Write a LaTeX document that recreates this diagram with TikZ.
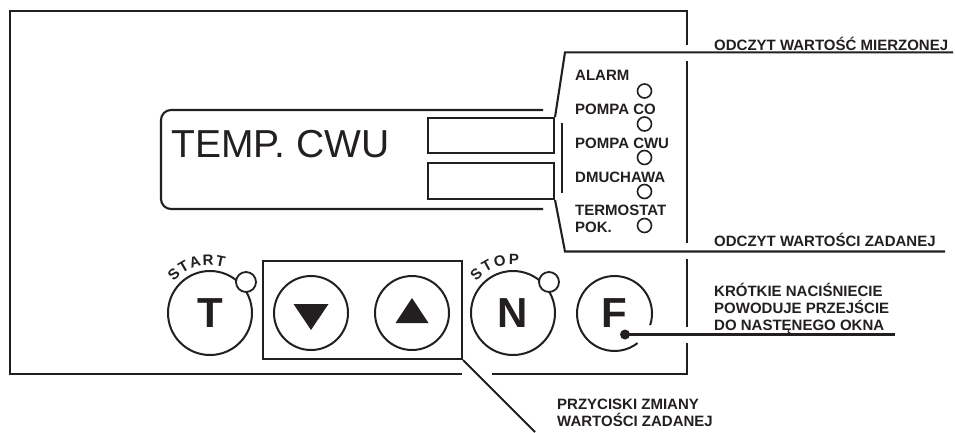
\documentclass[tikz,border=0pt]{standalone}
\usepackage{fontspec}
\setmainfont{Liberation Sans}
\usepackage{tikz}
\usetikzlibrary{positioning}
\usetikzlibrary{decorations.text}
\definecolor{ink}{HTML}{231F20}
\tikzset{frame/.style={draw, ink, line width=2.4pt}}
\tikzset{ln/.style={draw, ink, line width=2.1pt}}
\tikzset{btn/.style={circle, draw=ink, line width=2pt, inner sep=0pt,
  minimum size=84pt, text=ink, font=\fontsize{42}{42}\selectfont\bfseries}}
\tikzset{arw/.style={circle, draw=ink, line width=2pt, inner sep=0pt,
  minimum size=74pt}}
\tikzset{lamp/.style={circle, draw=ink, fill=white, line width=1.8pt,
  inner sep=0pt, minimum size=20pt}}
\tikzset{led/.style={circle, draw=ink, line width=1.6pt, inner sep=0pt,
  minimum size=14pt}}
\tikzset{lbl/.style={anchor=base west, inner sep=0pt, text=ink,
  font=\fontsize{15}{17}\selectfont\bfseries}}
\tikzset{arclbl/.style={decorate, decoration={text along path,
  text align={fit to path}, text={|\color{ink}\fontsize{15}{15}\selectfont\bfseries|#1}}}}

\begin{document}
\begin{tikzpicture}[x=1pt,y=1pt]
        \useasboundingbox (0,0) rectangle (955,-432);
        %% outer frame
        \draw[frame] (492,-374) -- (687,-374) -- (687,-343);
        \draw[frame] (687,-327) -- (687,-259);
        \draw[frame] (687,-243) -- (687,-61);
        \draw[frame] (687,-45) -- (687,-11) -- (10,-11) -- (10,-374) -- (462,-374);
        %% display
        \draw[ln, rounded corners=10pt] (543,-110) -- (161,-110) -- (161,-209) -- (543,-209);
        \node (disp) at (171,-144) [anchor=west, inner sep=0pt, text=ink,
            font=\fontsize{39}{39}\selectfont] {TEMP. CWU};
        \node (meas) at (491,-135.5) [ln, inner sep=0pt, minimum width=126pt, minimum height=35pt] {};
        \node (set) at (491,-181) [ln, inner sep=0pt, minimum width=126pt, minimum height=36pt] {};
        %% led panel
        \coordinate (mz) at (953,-52.3);
        \coordinate (zd) at (945,-251.5);
        \coordinate (mzk) at (565,-52.3);
        \coordinate (zdk) at (565,-251.5);
        \draw[ln] (mz) -- (mzk) -- (meas.north east);
        \draw[ln] (set.south east) -- (zdk) -- (zd);
        \coordinate (bar1) at (562,-123);
        \coordinate (bar2) at (562,-193);
        \draw[ln] (bar1) -- (bar2);
        \node (l1) at (644.5,-91) [led] {};
        \node (l2) at (644.5,-124) [led] {};
        \node (l3) at (644.5,-157.5) [led] {};
        \node (l4) at (644.5,-191.5) [led] {};
        \node (l5) at (644.5,-225.5) [led] {};
        \node (alarm) at (575,-80.5) [lbl] {ALARM};
        \node (pco) at (575,-114) [lbl] {POMPA CO};
        \node (pcwu) at (575,-148.5) [lbl] {POMPA CWU};
        \node (dmu) at (575,-182.5) [lbl] {DMUCHAWA};
        \node (term) at (575,-215.5) [lbl] {TERMOSTAT};
        \node (pok) at (575,-232.5) [lbl] {POK.};
        \node (tmz) at (714,-50) [lbl] {ODCZYT WARTOŚĆ MIERZONEJ};
        \node (tzd) at (714,-246) [lbl] {ODCZYT WARTOŚCI ZADANEJ};
        %% buttons
        \node (T) at (210,-313) [btn] {T};
        \node (tl) at (246,-282) [lamp] {};
        \path[arclbl=START] (T.center) ++(139:48) arc[start angle=139, end angle=73, radius=48];
        \node (keys) at (362.5,-310) [ln, inner sep=0pt, minimum width=199pt, minimum height=98pt] {};
        \node (dn) at (311,-313) [arw] {};
        \node (up) at (412,-313) [arw] {};
        \fill[ink] ([shift={(-17.5,9)}]dn.center) -- ++(35,0) -- ++(-17.5,-26) -- cycle;
        \fill[ink] ([shift={(-16.5,-10)}]up.center) -- ++(33,0) -- ++(-16.5,25) -- cycle;
        \node (N) at (513,-313) [btn] {N};
        \node (nl) at (549,-282) [lamp] {};
        \path[arclbl=STOP] (N.center) ++(139:48.5) arc[start angle=139, end angle=83, radius=48.5];
        \node (F) at (614.5,-313.5) [btn, draw=none] {F};
        \draw[ink, line width=2pt] (F.center) ++(-18:37.5) arc[start angle=-18, end angle=308, radius=37.5];
        %% pointers
        \coordinate (fd) at (625,-334.5);
        \coordinate (fe) at (895,-334.5);
        \fill[ink] (fd) circle (5);
        \draw[ln] (fd) -- (fe);
        \node (kr1) at (714,-296) [lbl] {KRÓTKIE NACIŚNIECIE};
        \node (kr2) at (714,-313) [lbl] {POWODUJE PRZEJŚCIE};
        \node (kr3) at (714,-330) [lbl] {DO NASTĘNEGO OKNA};
        \coordinate (pz) at (535,-432);
        \draw[ln] (keys.south east) -- (pz);
        \node (pr1) at (557,-409.5) [lbl] {PRZYCISKI ZMIANY};
        \node (pr2) at (557,-426.5) [lbl] {WARTOŚCI ZADANEJ};
\end{tikzpicture}
\end{document}
